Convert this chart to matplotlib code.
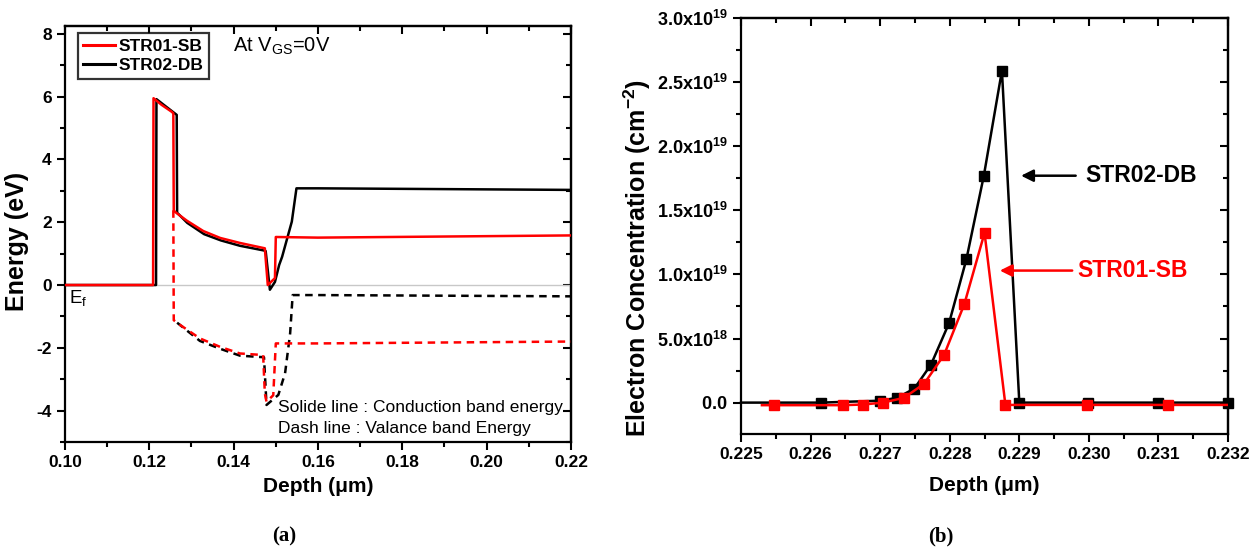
import matplotlib
matplotlib.use("Agg")
import matplotlib.pyplot as plt
from matplotlib.ticker import MultipleLocator, FixedLocator, FixedFormatter, NullFormatter
from matplotlib.lines import Line2D

plt.rcParams['font.family'] = ['Liberation Sans', 'DejaVu Sans']
plt.rcParams['mathtext.fontset'] = 'custom'
plt.rcParams['mathtext.rm'] = 'Liberation Sans'
plt.rcParams['mathtext.bf'] = 'Liberation Sans:bold'
plt.rcParams['mathtext.it'] = 'Liberation Sans:italic'

# ---------------- Panel (a): band energies ----------------
sb_cb_depth = [0.100, 0.1209, 0.1210, 0.1229, 0.1253, 0.1257, 0.1258, 0.1261, 0.1289, 0.1328, 0.1368, 0.1415,
               0.1474, 0.1481, 0.1498, 0.1500, 0.160, 0.220]
sb_cb_energy = [0.0, 0.0, 5.95, 5.74, 5.52, 5.47, 2.38, 2.33, 2.05, 1.72, 1.50, 1.34,
                1.17, 0.0, 0.22, 1.53, 1.51, 1.58]

db_cb_depth = [0.100, 0.1216, 0.1217, 0.1240, 0.1265, 0.1266, 0.1270, 0.1290, 0.1330, 0.1370, 0.1415,
               0.1472, 0.1476, 0.1486, 0.1498, 0.1508, 0.1515, 0.1538, 0.1549, 0.160, 0.220]
db_cb_energy = [0.0, 0.0, 5.92, 5.68, 5.42, 2.30, 2.25, 1.98, 1.62, 1.42, 1.25,
                1.10, 1.08, -0.15, 0.10, 0.64, 0.90, 2.02, 3.08, 3.08, 3.03]

sb_vb_depth = [0.1257, 0.1258, 0.1273, 0.1320, 0.1368, 0.1415, 0.1470, 0.1474, 0.1478, 0.1494, 0.1500, 0.160, 0.220]
sb_vb_energy = [2.38, -1.12, -1.27, -1.70, -1.97, -2.18, -2.23, -3.45, -3.72, -3.51, -1.86, -1.86, -1.80]

db_vb_depth = [0.1266, 0.1280, 0.1320, 0.1368, 0.1415, 0.1472, 0.1478, 0.1506, 0.1522, 0.1534, 0.1540, 0.160, 0.220]
db_vb_energy = [-1.20, -1.35, -1.78, -2.03, -2.25, -2.30, -3.82, -3.50, -2.81, -1.54, -0.32, -0.32, -0.36]

# ---------------- Panel (b): electron concentration ----------------
db_depth = [0.22500, 0.22615, 0.22700, 0.22724, 0.22749, 0.22773, 0.22799, 0.22824, 0.22849,
            0.22875, 0.22900, 0.22999, 0.23100, 0.23200]
db_conc = [0.0, 0.0, 1.5e17, 3.7e17, 1.09e18, 2.96e18, 6.2e18, 1.12e19, 1.77e19,
           2.59e19, 0.0, 0.0, 0.0, 0.0]

sb_depth = [0.22530, 0.22547, 0.22646, 0.22675, 0.22704, 0.22734, 0.22763, 0.22792, 0.22821,
            0.22850, 0.22880, 0.22997, 0.23114, 0.23200]
sb_conc = [-2e17, -2e17, -2e17, -1.5e17, 0.0, 3.7e17, 1.46e18, 3.74e18, 7.69e18,
           1.324e19, -1.8e17, -1.8e17, -1.8e17, -1.8e17]

b_yticks = [0.0, 5e18, 1e19, 1.5e19, 2e19, 2.5e19, 3e19]
b_yticklabels = [r'$\mathbf{0.0}$', r'$\mathbf{5.0x10^{18}}$', r'$\mathbf{1.0x10^{19}}$',
                 r'$\mathbf{1.5x10^{19}}$', r'$\mathbf{2.0x10^{19}}$', r'$\mathbf{2.5x10^{19}}$',
                 r'$\mathbf{3.0x10^{19}}$']

RED = '#ff0000'
BLACK = '#000000'

fig = plt.figure(figsize=(12.59, 5.51), dpi=100)
axa = fig.add_axes([0.0516, 0.1978, 0.4019, 0.755])
axb = fig.add_axes([0.5886, 0.2123, 0.3868, 0.755])


def style_axes(ax, xmaj, xmin, ymaj, ymin, labelsize):
    for s in ax.spines.values():
        s.set_linewidth(1.6)
    ax.xaxis.set_major_locator(xmaj)
    ax.xaxis.set_minor_locator(xmin)
    ax.yaxis.set_major_locator(ymaj)
    ax.yaxis.set_minor_locator(ymin)
    ax.tick_params(which='both', direction='out', width=1.5, labelsize=labelsize,
                   top=False, right=False)
    ax.tick_params(which='major', length=6)
    ax.tick_params(which='minor', length=3.5)
    # mirrored inward ticks on top and right
    sx = ax.secondary_xaxis('top')
    sx.xaxis.set_major_locator(xmaj)
    sx.xaxis.set_minor_locator(xmin)
    sx.xaxis.set_major_formatter(NullFormatter())
    sx.tick_params(which='both', direction='in', width=1.5)
    sx.tick_params(which='major', length=6)
    sx.tick_params(which='minor', length=3.5)
    sx.spines['top'].set_linewidth(1.6)
    sy = ax.secondary_yaxis('right')
    sy.yaxis.set_major_locator(ymaj)
    sy.yaxis.set_minor_locator(ymin)
    sy.yaxis.set_major_formatter(NullFormatter())
    sy.tick_params(which='both', direction='in', width=1.5)
    sy.tick_params(which='major', length=6)
    sy.tick_params(which='minor', length=3.5)
    sy.spines['right'].set_linewidth(1.6)


# ---- Panel (a)
axa.axhline(0, color='#c8c8c8', lw=1.0, zorder=1)
axa.plot(db_cb_depth, db_cb_energy, color=BLACK, lw=1.8, zorder=2)
axa.plot(db_vb_depth, db_vb_energy, color=BLACK, lw=1.8, ls=(0, (3, 2.2)), zorder=2)
axa.plot(sb_cb_depth, sb_cb_energy, color=RED, lw=1.8, zorder=3)
axa.plot(sb_vb_depth, sb_vb_energy, color=RED, lw=1.8, ls=(0, (3, 2.2)), zorder=3)
axa.set_xlim(0.10, 0.22)
axa.set_ylim(-5, 8.25)
style_axes(axa, MultipleLocator(0.02), MultipleLocator(0.01),
           FixedLocator([-4, -2, 0, 2, 4, 6, 8]), MultipleLocator(1), 12.5)
axa.xaxis.set_major_formatter(plt.FuncFormatter(lambda v, p: f'{v:.2f}'))
axa.yaxis.set_major_formatter(plt.FuncFormatter(lambda v, p: f'{v:.0f}'))
for lab in axa.get_xticklabels() + axa.get_yticklabels():
    lab.set_fontweight('bold')
axa.set_xlabel('Depth (\u03bcm)', fontsize=15, fontweight='bold')
axa.xaxis.set_label_coords(0.5, -0.085)
axa.set_ylabel('Energy (eV)', fontsize=18, fontweight='bold')
axa.yaxis.set_label_coords(-0.072, 0.483)

handles = [Line2D([], [], color=RED, lw=2.2), Line2D([], [], color=BLACK, lw=2.2)]
leg = axa.legend(handles, ['STR01-SB', 'STR02-DB'], loc='upper left', bbox_to_anchor=(0.026, 0.982),
                 prop={'weight': 'bold', 'size': 12.5}, frameon=True, fancybox=False,
                 handlelength=1.85, handletextpad=0.2, borderpad=0.3, labelspacing=0.25,
                 borderaxespad=0.0)
leg.get_frame().set_edgecolor('black')
leg.get_frame().set_linewidth(1.6)

axa.text(0.332, 0.952, r'At V$_{\mathrm{GS}}$=0V', transform=axa.transAxes, fontsize=14.5,
         ha='left', va='center')
axa.text(0.008, 0.345, r'E$_{\mathrm{f}}$', transform=axa.transAxes, fontsize=13.5,
         ha='left', va='center')
axa.text(0.422, 0.082, 'Solide line : Conduction band energy', transform=axa.transAxes,
         fontsize=12.5, ha='left', va='center')
axa.text(0.422, 0.033, 'Dash line : Valance band Energy', transform=axa.transAxes,
         fontsize=12.5, ha='left', va='center')

# ---- Panel (b)
n = len(db_depth)
axb.plot(db_depth, db_conc, color=BLACK, lw=1.8, marker='s', ms=6.5,
         markevery=list(range(1, n)), zorder=2, clip_on=False)
m = len(sb_depth)
axb.plot(sb_depth, sb_conc, color=RED, lw=1.8, marker='s', ms=6.5,
         markevery=list(range(1, m - 1)), zorder=3)
axb.set_xlim(0.225, 0.232)
axb.set_ylim(-2.45e18, 3.0e19)
style_axes(axb, MultipleLocator(0.001), MultipleLocator(0.0005), FixedLocator(b_yticks),
           FixedLocator([2.5e18, 7.5e18, 1.25e19, 1.75e19, 2.25e19, 2.75e19]), 12.5)
axb.tick_params(axis='y', labelsize=13)
axb.yaxis.set_major_formatter(FixedFormatter(b_yticklabels))
axb.xaxis.set_major_formatter(plt.FuncFormatter(lambda v, p: f'{v:.3f}'))
for lab in axb.get_xticklabels():
    lab.set_fontweight('bold')
axb.set_xlabel('Depth (\u03bcm)', fontsize=15, fontweight='bold')
axb.xaxis.set_label_coords(0.5, -0.102)
axb.set_ylabel(r'Electron Concentration (cm$^{\mathbf{-2}}$)', fontsize=18, fontweight='bold')
axb.yaxis.set_label_coords(-0.180, 0.423)

axb.annotate('', xy=(0.228985, 1.77e19), xytext=(0.22985, 1.77e19),
             arrowprops=dict(arrowstyle='-|>', color=BLACK, lw=1.8, mutation_scale=18))
axb.text(0.22995, 1.77e19, 'STR02-DB', color=BLACK, fontsize=16.5, fontweight='bold',
         ha='left', va='center')
axb.annotate('', xy=(0.22868, 1.03e19), xytext=(0.22980, 1.03e19),
             arrowprops=dict(arrowstyle='-|>', color=RED, lw=1.8, mutation_scale=18))
axb.text(0.22983, 1.03e19, 'STR01-SB', color=RED, fontsize=16.5, fontweight='bold',
         ha='left', va='center')

fig.text(284 / 1259, 1 - 536 / 551, '(a)', fontsize=15, fontweight='bold',
         family='Liberation Serif', ha='center', va='center')
fig.text(941 / 1259, 1 - 536 / 551, '(b)', fontsize=15, fontweight='bold',
         family='Liberation Serif', ha='center', va='center')

fig.savefig('out.png', dpi=100)
